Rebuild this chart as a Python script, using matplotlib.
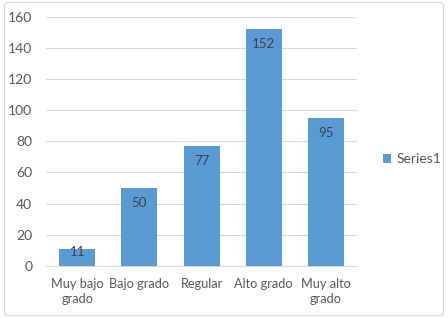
import matplotlib
matplotlib.use('Agg')
import matplotlib.pyplot as plt
from matplotlib.patches import FancyBboxPatch

categories = ['Muy bajo\ngrado', 'Bajo grado', 'Regular', 'Alto grado', 'Muy alto\ngrado']
values = [11, 50, 77, 152, 95]
series_name = 'Series1'

plt.rcParams['font.family'] = ['Lato', 'DejaVu Sans']

fig = plt.figure(figsize=(4.48, 3.18), dpi=100)
ax = fig.add_axes([0.103, 0.164, 0.694, 0.783])

x = range(len(categories))
bars = ax.bar(x, values, width=0.58, color='#5b9bd5', label=series_name, zorder=3)

ax.set_xlim(-0.5, len(categories) - 0.5)
ax.set_ylim(0, 160)

# data labels just inside the top of each bar (Excel "inside end")
px_per_unit = ax.bbox.height / 160
for xi, v in zip(x, values):
    off_px = min(15, v * px_per_unit - 14)
    ax.annotate(str(v), (xi, v), xytext=(0, -off_px * 72 / fig.dpi), textcoords='offset points',
                ha='center', va='center', fontsize=9.5, color='#404040', zorder=4)

ax.set_yticks(range(0, 161, 20))
ax.set_xticks(list(x))
ax.set_xticklabels(categories, linespacing=1.3)
ax.grid(axis='y', color='#d9d9d9', linewidth=0.8, zorder=0)
for s in ['top', 'right', 'left']:
    ax.spines[s].set_visible(False)
ax.spines['bottom'].set_color('#d9d9d9')
ax.tick_params(length=0, labelsize=10, labelcolor='#595959')
ax.tick_params(axis='x', pad=9, labelsize=9.2)
ax.tick_params(axis='y', pad=10)

leg = fig.legend(handles=[bars], labels=[series_name], loc='center left',
                 bbox_to_anchor=(0.826, 0.5), frameon=False, fontsize=10,
                 handlelength=0.6, handleheight=0.6, handletextpad=0.4)
for t in leg.get_texts():
    t.set_color('#595959')

border = FancyBboxPatch((0.01, 0.007), 0.98, 0.985, boxstyle='round,pad=0,rounding_size=0.01',
                        transform=fig.transFigure, fill=False, edgecolor='#d9d9d9', linewidth=0.8)
fig.patches.append(border)

fig.savefig('out.png', dpi=100)
